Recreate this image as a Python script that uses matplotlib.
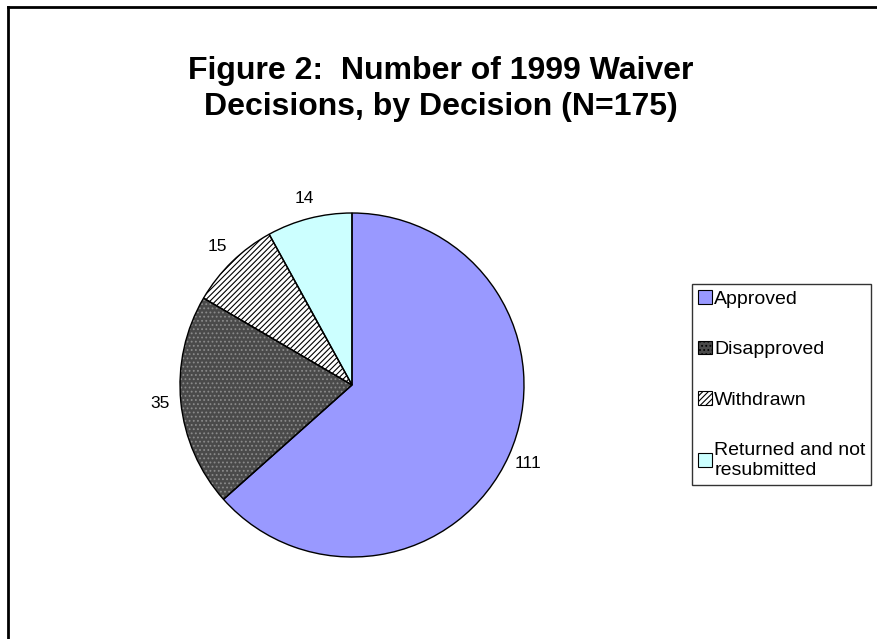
import matplotlib
matplotlib.use("Agg")
import matplotlib.pyplot as plt
from matplotlib.patches import Patch
from matplotlib.lines import Line2D

plt.rcParams['font.family'] = ['Liberation Sans', 'DejaVu Sans']
plt.rcParams['hatch.linewidth'] = 0.8

categories = ["Approved", "Disapproved", "Withdrawn", "Returned and not\nresubmitted"]
values = [111, 35, 15, 14]
face_colors = ["#9999FF", "#4a4a4a", "#FFFFFF", "#CCFFFF"]
hatches = [None, "....", "//////", None]
hatch_colors = ["#9999FF", "#8a8a8a", "#000000", "#CCFFFF"]
title = "Figure 2:  Number of 1999 Waiver\nDecisions, by Decision (N=175)"

W, H = 878, 639
fig = plt.figure(figsize=(W / 100, H / 100), dpi=100)

# pie axes
cx, cy, r = 352, 385, 172
ax = fig.add_axes([(cx - r) / W, (H - cy - r) / H, 2 * r / W, 2 * r / H])

wedges, texts = ax.pie(values, startangle=90, counterclock=False,
                       colors=face_colors, labels=[str(v) for v in values],
                       labeldistance=1.12,
                       wedgeprops=dict(linewidth=0),
                       textprops=dict(fontsize=12.5))
for t in texts:
    t.set_ha("center")
    t.set_va("center")
for w, h, hc in zip(wedges, hatches, hatch_colors):
    w.set_edgecolor(hc)
    if h:
        w.set_hatch(h)
# outlines
ax.pie(values, startangle=90, counterclock=False,
       colors=["none"] * len(values),
       wedgeprops=dict(linewidth=1.0, edgecolor="black", facecolor="none"))
ax.set_xlim(-1, 1)
ax.set_ylim(-1, 1)
ax.set_aspect("equal")
ax.axis("off")

fig.text(441 / W, 1 - 89 / H, title, ha="center", va="center",
         fontsize=23, fontweight="bold", linespacing=1.22)

handles = []
for fc, h in zip(face_colors, hatches):
    handles.append(Patch(facecolor=fc, edgecolor="black", hatch=h, linewidth=0.8))
leg = fig.legend(handles, categories, loc="upper left",
                 bbox_to_anchor=(692 / W, 1 - 284 / H),
                 fontsize=14, frameon=True, fancybox=False,
                 edgecolor="black", borderpad=0.3, labelspacing=1.7,
                 handlelength=0.72, handleheight=0.72, handletextpad=0.12,
                 borderaxespad=0)
leg.get_frame().set_linewidth(1.0)

# frame lines (top and left)
fig.add_artist(Line2D([8 / W, 1.0], [1 - 7 / H, 1 - 7 / H], color="black", lw=2,
                      transform=fig.transFigure))
fig.add_artist(Line2D([8 / W, 8 / W], [0, 1 - 7 / H], color="black", lw=2,
                      transform=fig.transFigure))

fig.savefig("out.png", dpi=100)
